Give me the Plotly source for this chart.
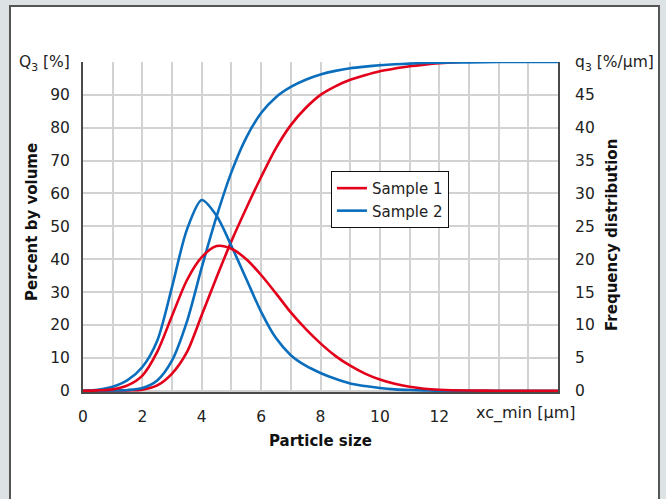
import plotly.graph_objects as go

# particle size grid [µm]
size = [0, 0.5, 1, 1.5, 2, 2.5, 3, 3.5, 4, 4.5, 5, 5.5, 6, 6.5, 7, 7.5, 8,
        8.5, 9, 9.5, 10, 10.5, 11, 11.5, 12, 13, 14, 15, 16]

# cumulative distribution Q3 [%]
cum_s1 = [0, 0, 0.05, 0.1, 0.3, 1.6, 5.2, 11.7, 23, 34.5, 45.5, 55.5, 65, 73.8,
          80.8, 86, 90, 92.6, 94.6, 96, 97.2, 98, 98.7, 99.2, 99.6, 100.2,
          100.5, 100.4, 100.1]
cum_s2 = [0, 0, 0.05, 0.2, 0.8, 3.1, 9.2, 21, 37.5, 53, 66.5, 77, 84.5, 89.3,
          92.4, 94.6, 96.2, 97.3, 98.1, 98.6, 99, 99.3, 99.5, 99.7, 99.8, 99.9,
          100, 100, 100]

# frequency distribution q3 [%/µm]
dens_s1 = [0, 0.05, 0.2, 0.8, 2.3, 5.9, 11.4, 16.8, 20.3, 22, 21.6, 20, 17.6,
           14.8, 11.9, 9.4, 7.2, 5.3, 3.8, 2.6, 1.7, 1.05, 0.6, 0.3, 0.15, 0.03,
           0, 0, 0]
dens_s2 = [0, 0.15, 0.6, 1.6, 3.6, 7.6, 15.8, 24.5, 29, 26.6, 22, 17, 12, 8.0,
           5.4, 3.8, 2.7, 1.8, 1.1, 0.7, 0.4, 0.2, 0.1, 0.05, 0, 0, 0, 0, 0]

series = ["Sample 1", "Sample 2"]
colors = ["#e2001a", "#0a6ebd"]

x_ticks = list(range(0, 17))
x_labels = [str(v) if v % 2 == 0 and v <= 12 else "" for v in x_ticks]
left_ticks = list(range(0, 101, 10))
left_labels = [str(v) for v in left_ticks[:-1]] + ["Q<sub>3</sub> [%]"]
right_ticks = list(range(0, 51, 5))
right_labels = [str(v) for v in right_ticks[:-1]] + ["q<sub>3</sub> [%/µm]"]

FONT = "DejaVu Sans"
GRID = "#d2d2d2"
AXIS = "#4a4a4a"
LINE = dict(width=2.6, shape="spline", smoothing=0.8)

fig = go.Figure()
# densities first (sample 1 on top at the baseline), then cumulative curves
for name, color, dens in [(series[1], colors[1], dens_s2), (series[0], colors[0], dens_s1)]:
    fig.add_trace(go.Scatter(
        x=size, y=dens, name=name, legendgroup=name, showlegend=False,
        mode="lines", line=dict(color=color, **LINE), yaxis="y2",
    ))
for name, color, cum in zip(series, colors, [cum_s1, cum_s2]):
    fig.add_trace(go.Scatter(
        x=size, y=cum, name=name, legendgroup=name, showlegend=True,
        mode="lines", line=dict(color=color, **LINE),
    ))

# white panel behind the chart
fig.add_shape(type="rect", xref="paper", yref="paper",
              x0=-0.1537, x1=1.2126, y0=-0.36, y1=1.17,
              line=dict(color="#555555", width=2), fillcolor="white", layer="below")

fig.add_annotation(text="<b>Percent by volume</b>", xref="paper", yref="paper",
                   x=-0.1074, y=0.515, textangle=-90, showarrow=False,
                   xanchor="center", yanchor="middle",
                   font=dict(family=FONT, size=15, color="#111"))
fig.add_annotation(text="<b>Frequency distribution</b>", xref="paper", yref="paper",
                   x=1.1137, y=0.476, textangle=-90, showarrow=False,
                   xanchor="center", yanchor="middle",
                   font=dict(family=FONT, size=15, color="#111"))
fig.add_annotation(text="<b>Particle size</b>", xref="paper", yref="paper",
                   x=0.5, y=-0.1485, showarrow=False,
                   xanchor="center", yanchor="middle",
                   font=dict(family=FONT, size=15, color="#111"))
fig.add_annotation(text="xc_min [µm]", xref="paper", yref="paper",
                   x=0.9326, y=-0.0636, showarrow=False,
                   xanchor="center", yanchor="middle",
                   font=dict(family=FONT, size=16, color="#222"))

fig.update_layout(
    width=666, height=499,
    margin=dict(l=83, r=108, t=62, b=107, autoexpand=False),
    paper_bgcolor="#dde2e5", plot_bgcolor="white",
    font=dict(family=FONT, size=15.5, color="#222"),
    showlegend=True,
    legend=dict(x=0.522, y=0.67, xanchor="left", yanchor="top",
                bgcolor="white", bordercolor="#111", borderwidth=1,
                font=dict(family=FONT, size=15, color="#222"),
                tracegroupgap=0),
    xaxis=dict(range=[0, 16], tickvals=x_ticks, ticktext=x_labels,
               showgrid=True, gridcolor=GRID, gridwidth=1.5,
               showline=True, linecolor=AXIS, linewidth=2,
               ticks="outside", ticklen=9, tickcolor="rgba(0,0,0,0)",
               zeroline=False, fixedrange=True),
    yaxis=dict(range=[-0.4, 100], tickvals=left_ticks, ticktext=left_labels,
               showgrid=True, gridcolor=GRID, gridwidth=1.5,
               showline=True, linecolor=AXIS, linewidth=2,
               ticks="outside", ticklen=8, tickcolor="rgba(0,0,0,0)",
               zeroline=False),
    yaxis2=dict(range=[-0.2, 50], tickvals=right_ticks, ticktext=right_labels,
                overlaying="y", side="right", showgrid=False,
                showline=True, linecolor=AXIS, linewidth=2,
                ticks="outside", ticklen=12, tickcolor="rgba(0,0,0,0)",
                zeroline=False),
)

# the page's default 8px body margin would shift the whole figure
fig.write_html("out.html", config={"displayModeBar": False},
               post_script="document.body.style.margin='0';")
